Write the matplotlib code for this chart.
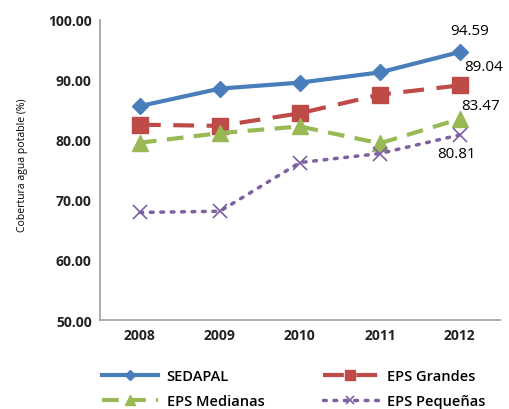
import matplotlib
matplotlib.use("Agg")
import matplotlib.pyplot as plt

years = ["2008", "2009", "2010", "2011", "2012"]
sedapal = [85.6, 88.5, 89.5, 91.2, 94.59]
grandes = [82.5, 82.3, 84.4, 87.5, 89.04]
medianas = [79.5, 81.1, 82.2, 79.4, 83.47]
pequenas = [67.9, 68.1, 76.2, 77.7, 80.81]
yticks = [50, 60, 70, 80, 90, 100]

plt.rcParams['font.family'] = ['Open Sans', 'DejaVu Sans']

fig = plt.figure(figsize=(5.1, 4.1), dpi=100)
ax = fig.add_axes([0.196, 0.217, 0.784, 0.733])
x = list(range(len(years)))

l1, = ax.plot(x, sedapal, color='#4A7EBB', lw=3, marker='D', ms=8, label='SEDAPAL')
l2, = ax.plot(x, grandes, color='#BE4B48', lw=3, ls=(0, (5, 3)), marker='s', ms=11, label='EPS Grandes')
l3, = ax.plot(x, medianas, color='#98B954', lw=3, ls=(0, (4, 2.5)), marker='^', ms=11, label='EPS Medianas')
l4, = ax.plot(x, pequenas, color='#7D60A0', lw=2.5, ls=(0, (0.8, 2.2)), dash_capstyle='round', marker='x', ms=10, mew=1.2, label='EPS Pequeñas')

ax.set_xlim(-0.5, 4.5)
ax.set_ylim(50, 100)
ax.set_xticks(x)
ax.set_xticklabels(years, fontsize=10, fontweight='bold', color='#222222')
ax.set_yticks(yticks)
ax.set_yticklabels([f"{v:.2f}" for v in yticks], fontsize=10, fontweight='bold', color='#222222')
ax.tick_params(length=0, pad=6)
for s in ['top', 'right']:
    ax.spines[s].set_visible(False)
for s in ['left', 'bottom']:
    ax.spines[s].set_color('#A0A0A0')
    ax.spines[s].set_linewidth(1.2)
ax.set_ylabel('Cobertura agua potable (%)', fontsize=7.5, labelpad=4)
ax.yaxis.set_label_coords(-0.18, 0.52)

ax.annotate(f"{sedapal[4]:.2f}", (4, sedapal[4]), xytext=(7, 10), textcoords='offset points', ha='center', va='bottom', fontsize=11)
ax.annotate(f"{grandes[4]:.2f}", (4, grandes[4]), xytext=(17, 8), textcoords='offset points', ha='center', va='bottom', fontsize=11)
ax.annotate(f"{medianas[4]:.2f}", (4, medianas[4]), xytext=(15, 4), textcoords='offset points', ha='center', va='bottom', fontsize=11)
ax.annotate(f"{pequenas[4]:.2f}", (4, pequenas[4]), xytext=(-2, -8), textcoords='offset points', ha='center', va='top', fontsize=11)

fig.legend(handles=[l1, l3, l2, l4], loc='lower left', bbox_to_anchor=(0.175, -0.03), ncol=2,
           frameon=False, handlelength=3.8, columnspacing=4.0, handletextpad=0.6,
           labelspacing=0.75, markerscale=0.6, prop={'weight': 'semibold', 'size': 10.5})

fig.savefig('out.png', dpi=100)
